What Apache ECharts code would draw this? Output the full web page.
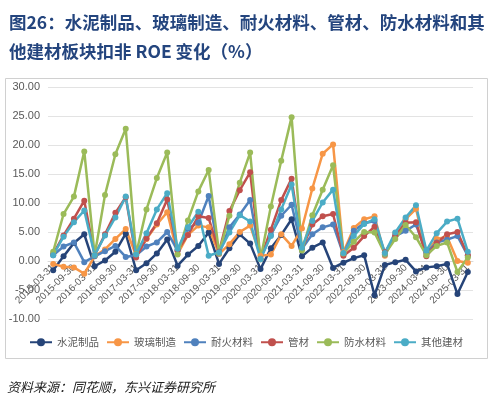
<!DOCTYPE html>
<html>
<head>
<meta charset="utf-8">
<script src="https://cdn.jsdelivr.net/npm/echarts@6/dist/echarts.min.js"></script>
<style>
html, body { margin: 0; padding: 0; background: #fff; }
#chart { width: 492px; height: 400px; }
</style>
</head>
<body>
<div id="chart"></div>
<script>
// 报告期（季度）
var quarters = [
    '2015-03-31', '2015-06-30', '2015-09-30', '2015-12-31',
    '2016-03-31', '2016-06-30', '2016-09-30', '2016-12-31',
    '2017-03-31', '2017-06-30', '2017-09-30', '2017-12-31',
    '2018-03-31', '2018-06-30', '2018-09-30', '2018-12-31',
    '2019-03-31', '2019-06-30', '2019-09-30', '2019-12-31',
    '2020-03-31', '2020-06-30', '2020-09-30', '2020-12-31',
    '2021-03-31', '2021-06-30', '2021-09-30', '2021-12-31',
    '2022-03-31', '2022-06-30', '2022-09-30', '2022-12-31',
    '2023-03-31', '2023-06-30', '2023-09-30', '2023-12-31',
    '2024-03-31', '2024-06-30', '2024-09-30', '2024-12-31',
    '2025-03-31'
];

// 扣非 ROE（%）
var cementProducts = [-1.6, 0.8, 3.1, 4.6, -0.9, 0.1, 1.6, 4.7, -1.6, -0.4, 1.3, 3.7, -0.8, 1.1, 2.6, 4.9, -0.5, 2.2, 4.6, 3.0, -1.4, 2.2, 4.5, 7.2, 0.8, 2.3, 3.2, -1.2, -0.3, 0.5, 1.0, -5.9, -0.7, -0.2, 0.2, -1.8, -1.1, -0.9, -0.5, -5.7, -1.9];
var glassMaking = [-0.5, -1.0, -1.1, -2.2, 0.8, 2.0, 3.8, 5.5, 1.0, 3.8, 6.3, 8.4, 1.2, 4.5, 6.1, 5.8, 1.2, 2.9, 5.0, 6.1, 0.9, 1.1, 4.6, 2.6, 5.6, 12.5, 18.5, 20.1, 1.5, 5.7, 7.2, 7.7, 0.9, 4.8, 7.2, 9.0, 1.4, 3.8, 4.2, 0.0, -0.3];
var refractory = [1.0, 2.5, 3.2, -0.2, 0.8, 1.7, 2.6, 0.7, 1.0, 2.5, 3.2, 5.0, 1.8, 5.6, 6.6, 11.2, 1.3, 5.8, 8.0, 10.5, 0.4, 4.5, 7.8, 9.7, 2.1, 4.6, 5.8, 6.3, 1.1, 5.2, 6.5, 6.9, 1.1, 4.3, 5.2, 6.3, 1.4, 3.2, 3.7, 4.3, 0.9];
var pipes = [1.2, 4.4, 7.3, 10.4, 1.0, 4.6, 8.3, 11.0, 0.6, 3.9, 6.5, 10.6, 1.8, 4.5, 7.7, 7.4, 1.6, 8.6, 12.2, 15.3, 0.3, 5.4, 10.5, 14.2, 2.1, 6.3, 7.7, 8.1, 0.9, 2.3, 4.3, 5.9, 1.5, 4.3, 6.6, 6.7, 0.8, 3.1, 4.6, 5.0, 1.0];
var waterproof = [1.6, 8.1, 11.1, 18.9, 1.0, 11.4, 18.4, 22.8, 1.2, 8.9, 14.3, 18.7, 1.1, 7.0, 12.0, 15.7, 1.4, 7.8, 13.5, 18.7, 0.3, 9.4, 17.3, 24.8, 1.8, 7.9, 12.3, 16.5, 1.3, 3.3, 5.0, 4.9, 1.2, 3.8, 6.2, 4.1, 1.0, 2.6, 3.2, -1.9, 0.6];
var otherMaterials = [1.0, 4.2, 6.7, 8.7, 1.0, 4.4, 7.5, 11.1, 1.1, 4.8, 8.9, 11.7, 2.1, 5.8, 8.5, 0.9, 1.5, 4.9, 7.9, 6.8, 0.3, 4.3, 8.9, 13.2, 2.3, 6.9, 10.1, 12.3, 1.4, 4.3, 6.4, 7.2, 1.4, 4.9, 7.5, 9.6, 1.8, 4.8, 6.8, 7.3, 1.6];

var seriesNames = ['水泥制品', '玻璃制造', '耐火材料', '管材', '防水材料', '其他建材'];
var seriesData = [cementProducts, glassMaking, refractory, pipes, waterproof, otherMaterials];
var seriesColors = ['#264478', '#f79646', '#4f81bd', '#c0504d', '#9bbb59', '#4bacc6'];

var dom = document.getElementById('chart');
var myChart = echarts.init(dom);

var series = [];
for (var i = 0; i < seriesNames.length; i++) {
    series.push({
        name: seriesNames[i],
        type: 'line',
        data: seriesData[i],
        symbol: 'circle',
        symbolSize: 6,
        color: seriesColors[i],
        lineStyle: { width: 2.5 },
        animation: false
    });
}

// 横轴放在 0 值处（与 Excel 原图一致），用 offset 上移
var plotTop = 87, plotBottom = 81, plotHeight = 400 - plotTop - plotBottom;
var yMin = -10, yMax = 30;
var zeroOffset = -plotHeight * (0 - yMin) / (yMax - yMin);

var option = {
    backgroundColor: '#fff',
    textStyle: { fontFamily: 'Noto Sans CJK SC' },
    title: {
        text: '图26：水泥制品、玻璃制造、耐火材料、管材、防水材料和其\n他建材板块扣非 ROE 变化（%）',
        left: 4,
        top: 3,
        textStyle: {
            fontSize: 17.5,
            fontWeight: 'bold',
            color: '#24457e',
            lineHeight: 29,
            fontFamily: 'Noto Sans CJK SC'
        }
    },
    legend: {
        data: seriesNames,
        top: 332,
        left: 'center',
        itemWidth: 22,
        itemHeight: 10,
        itemGap: 7,
        textStyle: { fontSize: 10.5, color: '#595959' }
    },
    grid: { left: 48, right: 19, top: plotTop, bottom: plotBottom },
    xAxis: {
        type: 'category',
        data: quarters,
        boundaryGap: true,
        offset: zeroOffset,
        axisLine: { onZero: false, lineStyle: { color: '#d9d9d9' } },
        axisTick: { show: false },
        axisLabel: {
            interval: 1,
            rotate: 45,
            margin: 5,
            fontSize: 10,
            color: '#595959',
            fontFamily: 'Liberation Sans'
        }
    },
    yAxis: {
        type: 'value',
        min: yMin,
        max: yMax,
        interval: 5,
        axisLine: { show: false },
        axisTick: { show: false },
        splitLine: { lineStyle: { color: '#e3e3e3' } },
        axisLabel: {
            fontSize: 11,
            color: '#595959',
            margin: 8,
            fontFamily: 'Liberation Sans',
            formatter: function (v) { return v.toFixed(2); }
        }
    },
    graphic: [
        {
            type: 'rect',
            shape: { x: 5.5, y: 78.5, width: 482, height: 280 },
            style: { fill: 'none', stroke: '#d0d0d0', lineWidth: 1 },
            silent: true
        },
        {
            type: 'text',
            left: 7,
            top: 381,
            style: {
                text: '资料来源：同花顺，东兴证券研究所',
                font: 'italic 13px "Noto Sans CJK SC"',
                fill: '#222'
            }
        }
    ],
    series: series
};

if (option && typeof option === 'object') {
    myChart.setOption(option, true);
}
</script>
</body>
</html>
